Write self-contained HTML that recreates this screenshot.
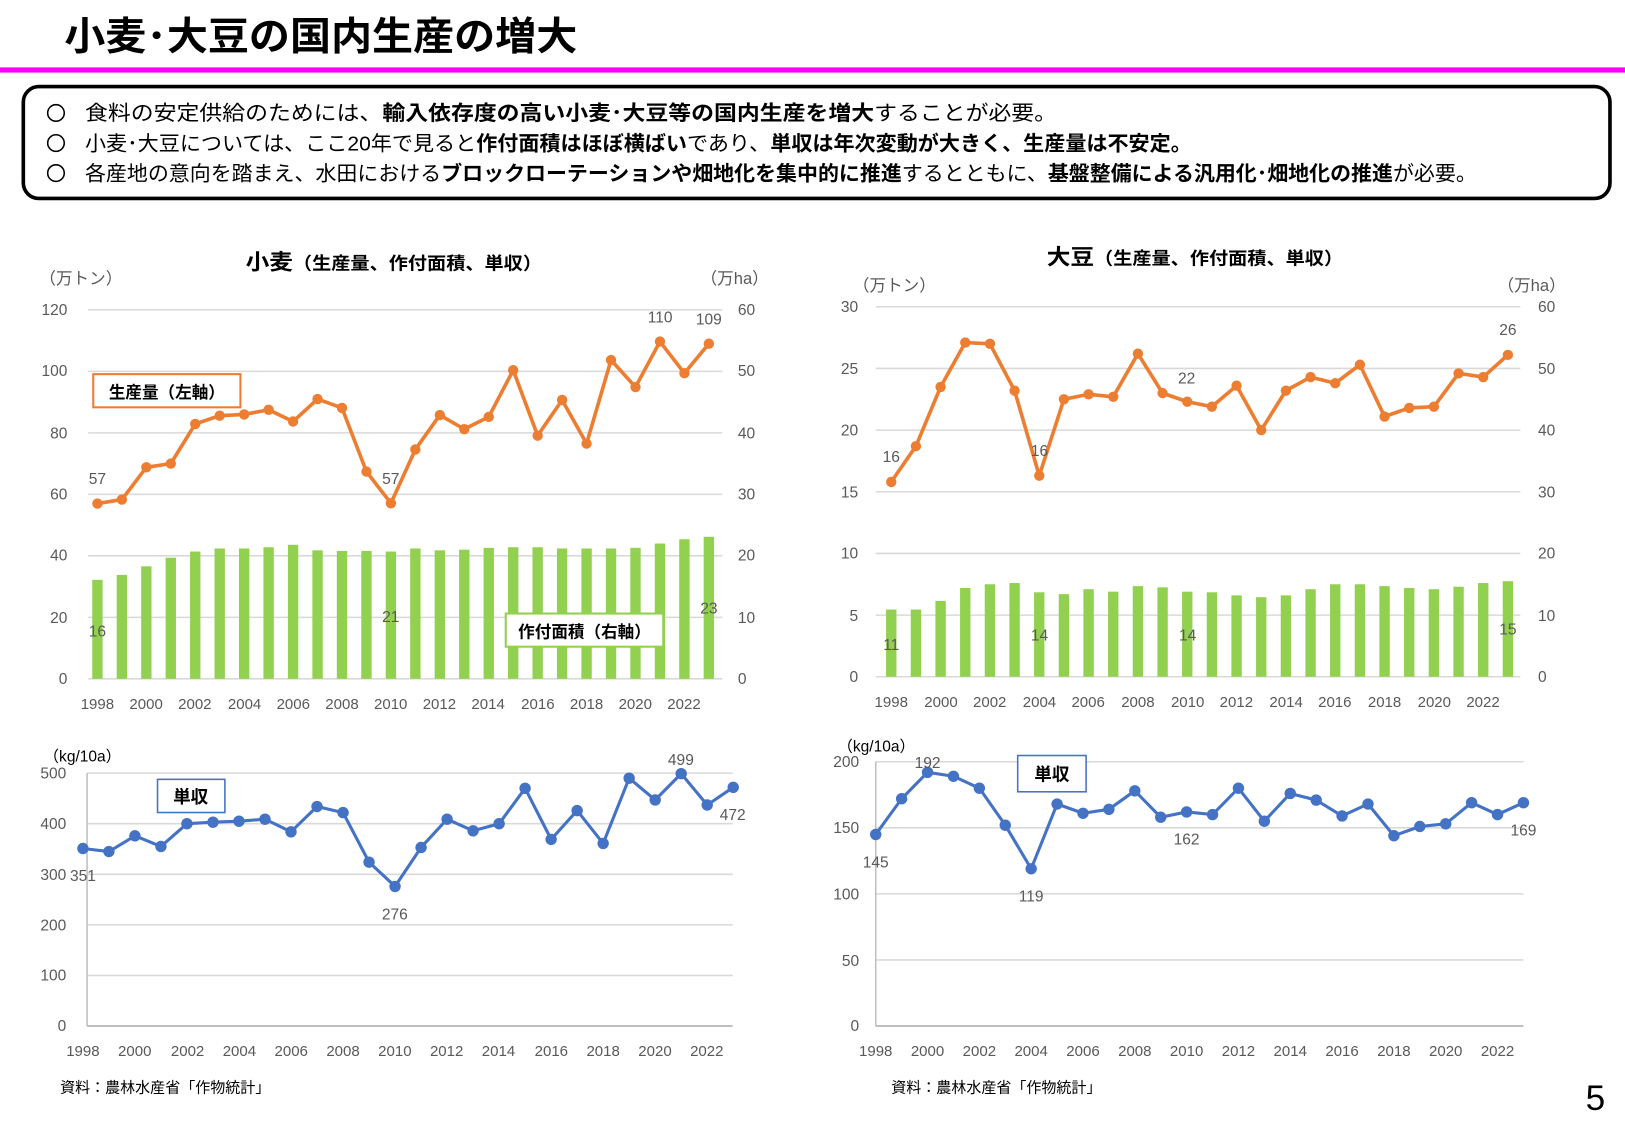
<!DOCTYPE html>
<html><head><meta charset="utf-8"><style>
html,body{margin:0;padding:0;background:#fff;}
svg{display:block;}
text{font-family:"Liberation Sans","Noto Sans CJK JP",sans-serif;}
.t{fill:#595959;font-size:15px;}
.b{font-weight:bold;fill:#000;}
</style></head><body>
<svg id="s" width="1625" height="1125" viewBox="0 0 1568 1085.5" xmlns="http://www.w3.org/2000/svg">
<text x="62" y="48" class="b" style="font-size:38px" textLength="495" lengthAdjust="spacingAndGlyphs">小麦･大豆の国内生産の増大</text>
<rect x="0" y="65" width="1568" height="5" fill="#ff00ff"/>
<rect x="22.5" y="83.5" width="1531" height="108" rx="15" fill="#fff" stroke="#000" stroke-width="3.5"/>
<g fill="none" stroke="#000" stroke-width="1.5"><circle cx="54" cy="109" r="8"/><circle cx="54" cy="138" r="8"/><circle cx="54" cy="167" r="8"/></g>
<g style="font-size:20px" fill="#000">
<text x="82" y="116" textLength="938" lengthAdjust="spacingAndGlyphs">食料の安定供給のためには、<tspan font-weight="bold">輸入依存度の高い小麦･大豆等の国内生産を増大</tspan>することが必要。</text>
<text x="82" y="145" textLength="1068" lengthAdjust="spacingAndGlyphs">小麦･大豆については、ここ20年で見ると<tspan font-weight="bold">作付面積はほぼ横ばい</tspan>であり、<tspan font-weight="bold">単収は年次変動が大きく、生産量は不安定。</tspan></text>
<text x="82" y="174" textLength="1343" lengthAdjust="spacingAndGlyphs">各産地の意向を踏まえ、水田における<tspan font-weight="bold">ブロックローテーションや畑地化を集中的に推進</tspan>するとともに、<tspan font-weight="bold">基盤整備による汎用化･畑地化の推進</tspan>が必要。</text>
</g>
<!-- wheat top -->
<text x="237" y="260" class="b" textLength="286" lengthAdjust="spacingAndGlyphs"><tspan style="font-size:21px">小麦</tspan><tspan style="font-size:17px">（生産量、作付面積、単収）</tspan></text>
<text x="38" y="274" class="t" style="font-size:16px">（万トン）</text>
<text x="676" y="274" class="t" style="font-size:16px">（万ha）</text>
<g class="t" text-anchor="end">
<text x="65" y="304">120</text><text x="65" y="363">100</text><text x="65" y="423">80</text><text x="65" y="482">60</text><text x="65" y="541">40</text><text x="65" y="601">20</text><text x="65" y="660">0</text>
</g>
<g class="t">
<text x="712" y="304">60</text><text x="712" y="363">50</text><text x="712" y="423">40</text><text x="712" y="482">30</text><text x="712" y="541">20</text><text x="712" y="601">10</text><text x="712" y="660">0</text>
</g>
<g class="t" text-anchor="middle" style="font-size:14.5px">
<text x="94" y="684">1998</text><text x="141" y="684">2000</text><text x="188" y="684">2002</text><text x="236" y="684">2004</text><text x="283" y="684">2006</text><text x="330" y="684">2008</text><text x="377" y="684">2010</text><text x="424" y="684">2012</text><text x="471" y="684">2014</text><text x="519" y="684">2016</text><text x="566" y="684">2018</text><text x="613" y="684">2020</text><text x="660" y="684">2022</text>
</g>
<g id="wgrid"></g><g id="wbars"></g><g id="wline"></g>
<rect x="90" y="361" width="142" height="32" fill="#fff" stroke="#ed7d31" stroke-width="2"/>
<text x="161" y="384" text-anchor="middle" class="b" style="font-size:16px">生産量（左軸）</text>
<rect x="488" y="592" width="152" height="32" fill="#fff" stroke="#92d050" stroke-width="2"/>
<text x="564" y="615" text-anchor="middle" class="b" style="font-size:16px">作付面積（右軸）</text>
<g class="t" text-anchor="middle">
<text x="94" y="467">57</text><text x="377" y="467">57</text><text x="637" y="311">110</text><text x="684" y="313">109</text>
<text x="94" y="614">16</text><text x="377" y="600">21</text><text x="684" y="592">23</text>
</g>
<!-- soy top -->
<text x="1010" y="255" class="b" textLength="286" lengthAdjust="spacingAndGlyphs"><tspan style="font-size:21px">大豆</tspan><tspan style="font-size:17px">（生産量、作付面積、単収）</tspan></text>
<text x="823" y="281" class="t" style="font-size:16px">（万トン）</text>
<text x="1445" y="281" class="t" style="font-size:16px">（万ha）</text>
<g class="t" text-anchor="end">
<text x="828" y="301">30</text><text x="828" y="361">25</text><text x="828" y="420">20</text><text x="828" y="480">15</text><text x="828" y="539">10</text><text x="828" y="599">5</text><text x="828" y="658">0</text>
</g>
<g class="t">
<text x="1484" y="301">60</text><text x="1484" y="361">50</text><text x="1484" y="420">40</text><text x="1484" y="480">30</text><text x="1484" y="539">20</text><text x="1484" y="599">10</text><text x="1484" y="658">0</text>
</g>
<g class="t" text-anchor="middle" style="font-size:14.5px">
<text x="860" y="682">1998</text><text x="908" y="682">2000</text><text x="955" y="682">2002</text><text x="1003" y="682">2004</text><text x="1050" y="682">2006</text><text x="1098" y="682">2008</text><text x="1146" y="682">2010</text><text x="1193" y="682">2012</text><text x="1241" y="682">2014</text><text x="1288" y="682">2016</text><text x="1336" y="682">2018</text><text x="1384" y="682">2020</text><text x="1431" y="682">2022</text>
</g>
<g id="sgrid"></g><g id="sbars"></g><g id="sline"></g>
<g class="t" text-anchor="middle">
<text x="860" y="446">16</text><text x="1003" y="440">16</text><text x="1145" y="370">22</text><text x="1455" y="323">26</text>
<text x="860" y="627">11</text><text x="1003" y="618">14</text><text x="1146" y="618">14</text><text x="1455" y="612">15</text>
</g>
<!-- wheat yield -->
<text x="42" y="735" class="t" style="font-size:15px;fill:#000">（kg/10a）</text>
<g class="t" text-anchor="end">
<text x="64" y="751">500</text><text x="64" y="800">400</text><text x="64" y="849">300</text><text x="64" y="898">200</text><text x="64" y="946">100</text><text x="64" y="995">0</text>
</g>
<g class="t" text-anchor="middle" style="font-size:14.5px">
<text x="80" y="1019">1998</text><text x="130" y="1019">2000</text><text x="181" y="1019">2002</text><text x="231" y="1019">2004</text><text x="281" y="1019">2006</text><text x="331" y="1019">2008</text><text x="381" y="1019">2010</text><text x="431" y="1019">2012</text><text x="481" y="1019">2014</text><text x="532" y="1019">2016</text><text x="582" y="1019">2018</text><text x="632" y="1019">2020</text><text x="682" y="1019">2022</text>
</g>
<g id="wy"></g>
<rect x="152" y="752" width="65" height="32" fill="#fff" stroke="#4472c4" stroke-width="1.5"/>
<text x="184" y="775" text-anchor="middle" class="b" style="font-size:17px">単収</text>
<g class="t" text-anchor="middle">
<text x="80" y="850">351</text><text x="381" y="887">276</text><text x="657" y="738">499</text><text x="707" y="791">472</text>
</g>
<text x="58" y="1054" style="font-size:14.5px" fill="#000">資料：農林水産省「作物統計」</text>
<!-- soy yield -->
<text x="808" y="725" class="t" style="font-size:15px;fill:#000">（kg/10a）</text>
<g class="t" text-anchor="end">
<text x="829" y="740">200</text><text x="829" y="804">150</text><text x="829" y="868">100</text><text x="829" y="932">50</text><text x="829" y="995">0</text>
</g>
<g class="t" text-anchor="middle" style="font-size:14.5px">
<text x="845" y="1019">1998</text><text x="895" y="1019">2000</text><text x="945" y="1019">2002</text><text x="995" y="1019">2004</text><text x="1045" y="1019">2006</text><text x="1095" y="1019">2008</text><text x="1145" y="1019">2010</text><text x="1195" y="1019">2012</text><text x="1245" y="1019">2014</text><text x="1295" y="1019">2016</text><text x="1345" y="1019">2018</text><text x="1395" y="1019">2020</text><text x="1445" y="1019">2022</text>
</g>
<g id="sy"></g>
<rect x="982" y="729" width="66" height="35" fill="#fff" stroke="#4472c4" stroke-width="1.5"/>
<text x="1015" y="753" text-anchor="middle" class="b" style="font-size:17px">単収</text>
<g class="t" text-anchor="middle">
<text x="895" y="741">192</text><text x="845" y="837">145</text><text x="995" y="870">119</text><text x="1145" y="815">162</text><text x="1470" y="806">169</text>
</g>
<text x="860" y="1054" style="font-size:14.5px" fill="#000">資料：農林水産省「作物統計」</text>
<text x="1530" y="1071" style="font-size:34px" fill="#000">5</text>
</svg>
<script>
var NS="http://www.w3.org/2000/svg";
function el(p,t,a){var e=document.createElementNS(NS,t);for(var k in a)e.setAttribute(k,a[k]);document.getElementById(p).appendChild(e);return e;}
function grid(id,x1,x2,ys){ys.forEach(function(y){el(id,"line",{x1:x1,x2:x2,y1:y,y2:y,stroke:"#d9d9d9","stroke-width":1.5});});}
function series(id,x0,step,vals,fy,col,r,w){var pts=vals.map(function(v,i){return (x0+i*step)+","+fy(v);}).join(" ");
el(id,"polyline",{points:pts,fill:"none",stroke:col,"stroke-width":w,"stroke-linejoin":"round"});
vals.forEach(function(v,i){el(id,"circle",{cx:x0+i*step,cy:fy(v),r:r,fill:col});});}
function bars(id,x0,step,vals,fy,base,w){vals.forEach(function(v,i){var y=fy(v);el(id,"rect",{x:x0+i*step-w/2,y:y,width:w,height:base-y,fill:"#92d050"});});}
grid("wgrid",85,697,[299,358.3,417.7,477,536.3,595.7]);
el("wgrid","line",{x1:85,x2:697,y1:655,y2:655,stroke:"#d9d9d9","stroke-width":1.5});
var wp=[57,58.3,68.8,70,82.9,85.6,86,87.5,83.7,91,88.1,67.4,57.1,74.6,85.8,81.2,85.2,100.4,79.1,90.7,76.5,103.7,94.9,109.7,99.4,109];
var wa=[16.1,16.9,18.3,19.7,20.7,21.2,21.2,21.4,21.8,20.9,20.8,20.8,20.7,21.2,20.9,21.0,21.3,21.4,21.4,21.2,21.2,21.2,21.3,22.0,22.7,23.1];
bars("wbars",94,23.6,wa,function(v){return 655-v*356/60;},655,10);
series("wline",94,23.6,wp,function(v){return 655-v*356/120;},"#ed7d31",5,3.5);
grid("sgrid",845,1467,[296,355.5,415,474.5,534,593.5]);
el("sgrid","line",{x1:845,x2:1467,y1:653,y2:653,stroke:"#d9d9d9","stroke-width":1.5});
var sp=[15.8,18.7,23.5,27.1,27.0,23.2,16.3,22.5,22.9,22.7,26.2,23.0,22.3,21.9,23.6,20.0,23.2,24.3,23.8,25.3,21.1,21.8,21.9,24.6,24.3,26.1];
var sa=[10.9,10.9,12.3,14.4,15.0,15.2,13.7,13.4,14.2,13.8,14.7,14.5,13.8,13.7,13.2,12.9,13.2,14.2,15.0,15.0,14.7,14.4,14.2,14.6,15.2,15.5];
bars("sbars",860,23.8,sa,function(v){return 653-v*357/60;},653,10);
series("sline",860,23.8,sp,function(v){return 653-v*357/30;},"#ed7d31",5,3.5);
grid("wy",84,707,[746,794.8,843.6,892.4,941.2]);
el("wy","line",{x1:84,x2:707,y1:990,y2:990,stroke:"#bfbfbf","stroke-width":2});
el("wy","line",{x1:84,x2:84,y1:746,y2:990,stroke:"#bfbfbf","stroke-width":1.5});
var wy=[351,345,376,355,400,403,405,409,384,434,422,324,276,353,409,386,400,470,369,426,361,490,447,499,437,472];
series("wy",80,25.1,wy,function(v){return 990-v*244/500;},"#4472c4",5.5,3);
grid("sy",845,1470,[735,798.75,862.5,926.25]);
el("sy","line",{x1:845,x2:1470,y1:990,y2:990,stroke:"#bfbfbf","stroke-width":2});
el("sy","line",{x1:845,x2:845,y1:735,y2:990,stroke:"#bfbfbf","stroke-width":1.5});
var syv=[145,172,192,189,180,152,119,168,161,164,178,158,162,160,180,155,176,171,159,168,144,151,153,169,160,169];
series("sy",845,25,syv,function(v){return 990-v*255/200;},"#4472c4",5.5,3);
</script>
</body></html>
